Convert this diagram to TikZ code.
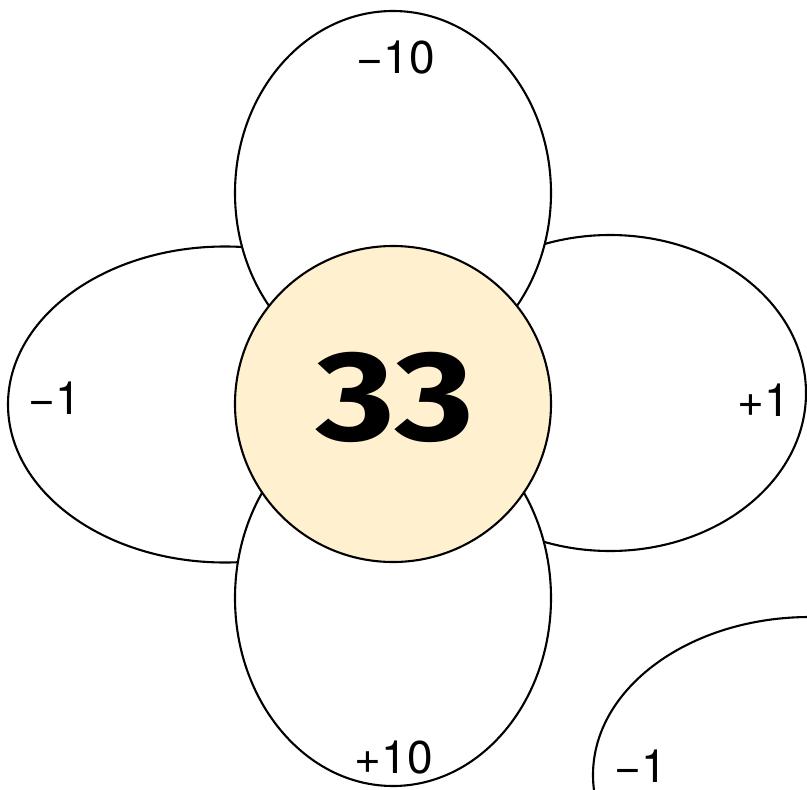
\documentclass[tikz,border=0pt]{standalone}
\usepackage{fontspec}
\setmainfont{Fira Sans}
\newfontfamily\labfont{TeX Gyre Heros}
\definecolor{centrefill}{HTML}{FFF1D0}
\begin{document}
\begin{tikzpicture}[x=1pt,y=-1pt,
  petal/.style={draw=black,line width=2.1pt,fill=white},
  lab/.style={font=\labfont\fontsize{46}{52}\selectfont,text=black,inner sep=0pt},
  big/.style={font=\fontsize{128}{140}\selectfont\bfseries,text=black,inner sep=0pt}]
\useasboundingbox (0,0) rectangle (807,790);
\coordinate (cl) at (225,404.5);
\coordinate (cr) at (610,393);
\coordinate (ct) at (393,193);
\coordinate (cb) at (393,598);
\coordinate (cc) at (393,404);
\coordinate (cx) at (810,775);
\begin{scope}
\clip (0,0) rectangle (807,790);
\draw[petal] (cx) ellipse [x radius=217pt, y radius=158pt];
\end{scope}
\draw[petal] (cl) ellipse [x radius=217pt, y radius=158pt];
\draw[petal] (cr) ellipse [x radius=196pt, y radius=158pt];
\draw[petal] (ct) ellipse [x radius=158pt, y radius=182pt];
\draw[petal] (cb) ellipse [x radius=158pt, y radius=188pt];
\draw[petal,fill=centrefill] (cc) circle [radius=158pt];
\node[lab] (top) at (396,58) {−10};
\node[lab] (bot) at (394,758) {+10};
\node[lab] (lft) at (55,398) {−1};
\node[lab] (rgt) at (764,400) {+1};
\node[lab] (brl) at (641,766) {−1};
\node[big] (mid) at (395,397) {\scalebox{1.18}[1]{33}};
\end{tikzpicture}
\end{document}
